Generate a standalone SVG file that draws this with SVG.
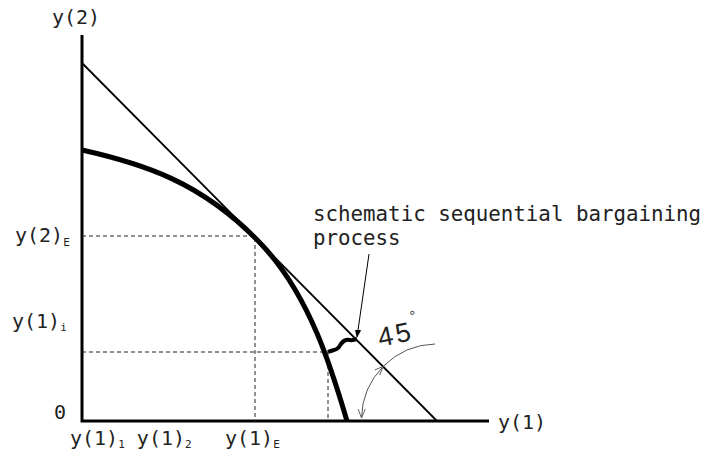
<svg xmlns="http://www.w3.org/2000/svg" width="706" height="454" viewBox="0 0 706 454">
<style>
.lbl{font-family:"DejaVu Sans Mono","Liberation Mono",monospace;fill:#222}
.big{font-size:20px}
.sub{font-size:11px}
.axis{stroke:#000;stroke-width:3;fill:none}
.thin{stroke:#000;stroke-width:1.8;fill:none}
.dash{stroke:#222;stroke-width:1;stroke-dasharray:4 3;fill:none}
.thick{stroke:#000;stroke-width:5;fill:none;stroke-linecap:butt}
.arc{stroke:#555;stroke-width:1;fill:none}
</style>
<defs>
<marker id="fill" viewBox="0 0 10 10" refX="9" refY="5" markerWidth="8" markerHeight="8" markerUnits="userSpaceOnUse" orient="auto">
<path d="M0,1 L10,5 L0,9 Z" fill="#000"/>
</marker>
<marker id="open" viewBox="0 0 10 10" refX="10" refY="5" markerWidth="9" markerHeight="9" markerUnits="userSpaceOnUse" orient="auto-start-reverse">
<path d="M0,1 L10,5 L0,9" fill="none" stroke="#555" stroke-width="1"/>
</marker>
</defs>
<rect width="706" height="454" fill="#fff"/>
<g id="axes">
<path class="axis" d="M82,35 V421 H489"/>
</g>
<g id="connectors">
<path class="dash" d="M82,236 H255 V421"/>
<path class="dash" d="M82,352 H328 V421"/>
<path class="thin" d="M82,63 L437,421"/>
<path class="thick" d="M82,150 C140,163 202,181 262,245 C310,296 332,370 347,421"/>
<path d="M328,352 C333,350 337,350 339,347 C341,344 342,341 346,340 C349,339 351,341 353,340 L357,339" stroke="#000" stroke-width="4" fill="none"/>
<path d="M369,254 L357,337" stroke="#000" stroke-width="1" fill="none" marker-end="url(#fill)"/>
<path class="arc" d="M383.3,366.3 A76,76 0 0 0 361.5,418" marker-start="url(#open)" marker-end="url(#open)"/>
<path class="arc" d="M383.3,366.3 A76,76 0 0 1 435,344"/>
</g>
<g id="labels">
<text class="lbl big" x="52" y="24">y(2)</text>
<text class="lbl big" x="15" y="242">y(2)<tspan class="sub" dy="4">E</tspan></text>
<text class="lbl big" x="12" y="328">y(1)<tspan class="sub" dy="3">i</tspan></text>
<text class="lbl big" x="54" y="419">0</text>
<text class="lbl big" x="70" y="445">y(1)<tspan class="sub" dy="3">1</tspan><tspan dy="-3"> </tspan>y(1)<tspan class="sub" dy="3">2</tspan></text>
<text class="lbl big" x="225" y="445">y(1)<tspan class="sub" dy="3">E</tspan></text>
<text class="lbl big" x="498" y="429">y(1)</text>
<text class="lbl" style="font-size:20.8px" x="313" y="221">schematic sequential bargaining</text>
<text class="lbl" style="font-size:20.8px" x="313" y="245">process</text>
<text style="font-family:'Liberation Sans',Arial,sans-serif;font-size:27px;fill:#222;letter-spacing:3px" x="380" y="347" transform="rotate(-12 380 347)">45<tspan font-size="14" dy="-19">°</tspan></text>
</g>
</svg>
